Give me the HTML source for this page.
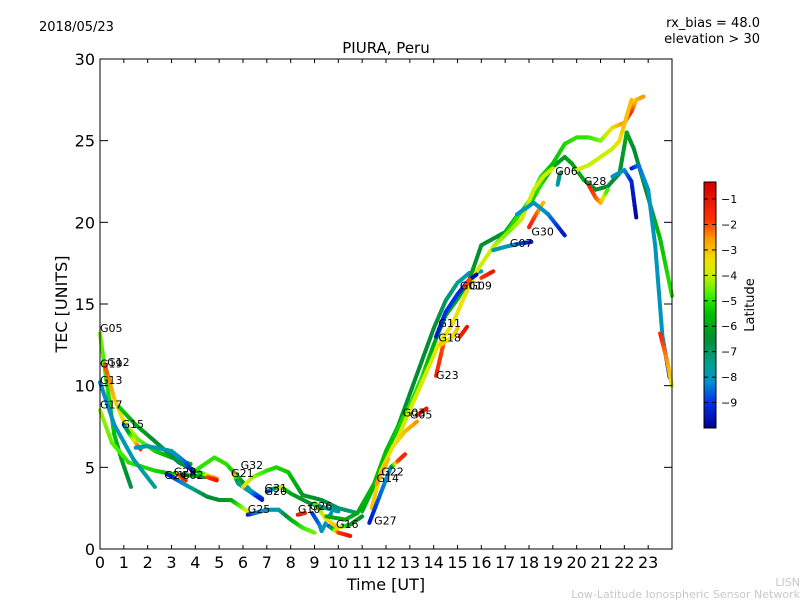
<!DOCTYPE html>
<html><head><meta charset="utf-8"><style>
body{margin:0;background:#fff;}
svg text{font-family:"DejaVu Sans","Liberation Sans",sans-serif;}
</style></head><body>
<svg id="chart" width="800" height="600" xmlns="http://www.w3.org/2000/svg">
<rect width="800" height="600" fill="#fff"/>
<text x="39" y="31" font-size="13">2018/05/23</text>
<text x="760" y="27" font-size="13" text-anchor="end">rx_bias = 48.0</text>
<text x="760" y="43" font-size="13" text-anchor="end">elevation &gt; 30</text>
<text x="386" y="53" font-size="15" text-anchor="middle">PIURA, Peru</text>
<text x="386" y="590" font-size="16" text-anchor="middle">Time [UT]</text>
<text transform="translate(67,304) rotate(-90)" font-size="16" text-anchor="middle">TEC [UNITS]</text>
<text x="800" y="586" font-size="11" fill="#c8c8c8" text-anchor="end">LISN</text>
<text x="800" y="598" font-size="11" fill="#c8c8c8" text-anchor="end">Low-Latitude Ionospheric Sensor Network</text>
<g id="tracks"></g>
<g id="labels"></g>
<rect x="100" y="59" width="572" height="490" fill="none" stroke="#000" stroke-width="1"/>
<g id="axes"></g>
<defs><linearGradient id="cbgrad" x1="0" y1="1" x2="0" y2="0"></linearGradient></defs>
<rect x="704" y="182" width="12" height="246" fill="url(#cbgrad)" stroke="#000" stroke-width="1"/>
<g id="cbticks"></g>
<text transform="translate(754,305) rotate(-90)" font-size="13" text-anchor="middle">Latitude</text>
</svg>
<script>
const xTicks=[0,1,2,3,4,5,6,7,8,9,10,11,12,13,14,15,16,17,18,19,20,21,22,23];
const yTicks=[0,5,10,15,20,25,30];
const cbTicks=[-1,-2,-3,-4,-5,-6,-7,-8,-9];
const latStops=[-10,-9,-8.2,-7.5,-6.5,-5.5,-4.8,-4,-3.4,-2.6,-1.8,-0.33];
const stopColors=["#00008f","#0030e8","#0090d0","#00a090","#008f30","#00c000","#40f000","#c8f000","#f0e000","#ffa000","#ff3000","#d00000"];
const trackNames=["G05","lime","G13","G12","G17","G15","G15b","G29","G25","G02","G02b","bump","G21","G32","G31","G10","G10b","G26","G16","rise1","rise2","top","yellow1","yellow2","G28","G30a","G30b","G07","G06","late1","late2","lateRed","G23","G23b","G23c","G11","G01","G09","G03","G14","G27","G22"];
const trackData=[
[[0,13.2,-4.5],[0.3,10,-5],[0.6,7,-5.5],[0.9,5.5,-6],[1.3,3.8,-6.8]],
[[0,8.5,-4.2],[0.5,6.5,-4.6],[1.2,5.3,-5],[2.3,4.8,-5.2],[3,4.6,-5.5],[3.8,4.5,-5.8],[4.5,4.4,-6.5]],
[[0,10.2,-8.2],[0.6,7.6,-8],[1.4,5.5,-7.8],[2.3,3.8,-7.5]],
[[0.2,11.3,-1.8],[0.6,9.2,-3],[1.0,7.8,-3.6],[1.6,6.7,-4.5],[2.3,6.0,-5.2],[3,5.6,-5.8],[3.8,5.2,-6]],
[[0.8,8.7,-5.2],[1.5,7.6,-6],[2.3,6.6,-6.5],[3.3,5.3,-6.8],[4,4.8,-6.5],[4.9,4.3,-2]],
[[1,7.6,-9.2],[1.3,6.9,-5],[1.7,6.1,-1.5]],
[[1.5,6.2,-8],[2.0,6.3,-7.8],[3,6,-7.8],[3.6,5.3,-8.5],[3.9,4.7,-9.5]],
[[2.8,4.6,-9.5],[3.5,4,-8.2],[4.5,3.2,-6.5],[5,3,-6.5],[5.5,3,-6],[6,2.5,-4.5],[6.2,2.3,-3.5]],
[[6.2,2.1,-9.5],[6.5,2.2,-8.5],[7,2.4,-8],[7.5,2.4,-7.8],[8,1.8,-6],[8.5,1.3,-5],[9,1,-4.5]],
[[3.2,4.6,-3],[3.6,4.2,-1.5]],
[[4.5,4.4,-2],[4.9,4.2,-1]],
[[4.1,4.9,-5],[4.5,5.3,-5],[4.8,5.6,-5],[5.3,5.2,-5],[5.8,4.4,-5.5],[6.3,3.6,-7.5],[6.8,3.1,-9]],
[[5.6,4.6,-1.5],[5.8,4.0,-7.5],[6.3,3.5,-8],[6.8,3.0,-9.5]],
[[6,3.8,-3],[6.4,4.4,-4.2],[7,4.8,-5],[7.4,5,-5.2],[7.9,4.7,-5.3],[8.2,4,-5.8],[8.5,3.3,-6.3],[9.3,3,-6.5],[10,2.5,-7],[10.8,2.2,-7.2]],
[[7,3.5,-9],[7.3,3.7,-8],[7.6,3.8,-3.5],[8,3.4,-6],[8.8,2.8,-6.5],[9.5,2.5,-7.5],[10,2.3,-8]],
[[8.3,2.1,-1],[8.6,2.2,-1.5]],
[[8.9,2.2,-9],[9.2,1.5,-8.5],[9.3,1.1,-8],[9.7,2.2,-8]],
[[9,2.8,-5],[9.5,1.8,-3.5],[10,1.3,-3],[10.5,1.5,-6],[11,2,-6.5]],
[[9.6,1.4,-9.5],[10,1,-2],[10.5,0.8,-1]],
[[9.5,2,-6],[10.3,1.8,-6],[10.8,2.2,-6],[11.5,4,-5.5],[12,6,-5.5],[12.5,7.5,-6],[13,9.5,-6.5],[13.5,11.5,-6.5],[14,13.5,-6.5],[14.5,15.2,-7],[15,16.3,-7.5],[15.5,16.9,-8],[16,17,-8]],
[[11,2.3,-6],[11.7,4.5,-5.5],[12.2,6.5,-5.5],[13,8.8,-5],[13.5,10.5,-5],[14,12.5,-6],[14.5,14.3,-6],[15,15.3,-6],[15.5,16.5,-6.2],[16,18.6,-6.5],[16.5,19,-6.5],[17,19.4,-6.3],[17.5,20.4,-6],[18,21,-5.5],[18.5,22.3,-5],[19,23.4,-6],[19.5,24,-6.3],[19.8,23.6,-6],[20.3,22.6,-6],[20.8,22,-6.5],[21.3,22.2,-6.5],[21.8,23,-6.5],[22.1,25.5,-6],[22.4,24.5,-6.5],[23,21.5,-6.5],[23.5,19,-5.5],[24,15.5,-5]],
[[16.5,18.5,-6],[17,19.3,-5.5],[17.5,20.3,-5],[18,21.3,-5],[18.5,22.8,-5],[19,23.6,-5.5],[19.5,24.8,-5.2],[20,25.2,-5],[20.5,25.2,-5],[21,25,-4.5],[21.5,25.8,-3.5],[22,26.1,-2.5],[22.3,26.8,-1.5],[22.5,27.5,-3],[22.8,27.7,-2.5]],
[[12.5,6.8,-3.8],[13,8.5,-3.8],[13.6,10.5,-3.8],[14.2,12.5,-3.6],[14.8,13.8,-3.5],[15.3,15.5,-3.5],[15.8,17,-3.8],[16.5,18.5,-4],[17.2,19.5,-4.5],[17.7,20.2,-4],[18.2,22,-4],[18.6,22.8,-3.8],[19,23.3,-4]],
[[20,23.2,-4],[20.5,23.5,-4],[21,24,-4],[21.5,24.5,-4],[21.8,25,-3.5],[22,26,-3],[22.3,27.5,-3]],
[[20.5,22.3,-1.5],[20.8,21.5,-2],[21,21.2,-2.5],[21.3,22,-5]],
[[18,19.7,-1.5],[18.3,20.5,-2],[18.6,21.2,-3]],
[[17.5,20.5,-8],[18.2,21.2,-8],[18.8,20.5,-8.2],[19.5,19.2,-9.5]],
[[16.5,18.3,-7.5],[17,18.5,-7.8],[17.6,18.7,-8.5],[18.1,18.8,-9.5]],
[[19.2,22.3,-8],[19.3,23,-7]],
[[21.5,22.8,-8],[22,23.2,-8],[22.3,22.5,-9.2],[22.5,20.3,-9.8]],
[[22.3,23.3,-9.5],[22.6,23.5,-8.5],[23,22,-8],[23.3,18.5,-8],[23.6,13,-8],[23.9,10.5,-9]],
[[23.5,13.2,-1.5],[23.8,11.5,-2.5],[24,10,-3.5]],
[[14.1,10.6,-1.5],[14.4,12.5,-2]],
[[14.3,12.5,-3],[14.8,13,-3.5],[15,13.5,-3]],
[[15.1,13,-1.5],[15.4,13.6,-1]],
[[14.1,13,-9.5],[14.5,14.5,-9],[15,15.6,-9],[15.5,16.5,-9.5],[15.8,16.8,-9.7]],
[[16,16.6,-2],[16.5,17,-1]],
[[15.3,16,-1.5],[15.5,16.5,-2]],
[[13.3,8.2,-2],[13.7,8.6,-1]],
[[11.4,2.5,-3],[11.8,4.8,-3.5],[12.3,6.3,-3.5],[12.8,7.2,-3],[13.3,7.8,-2.5]],
[[11.3,1.6,-9.5],[11.8,3.5,-8.5],[12.2,5,-8],[12.5,5.4,-2],[12.8,5.8,-1.5]],
[[11.6,4,-2.5],[12.1,5.5,-3]]
];
const labelNames=["G05","G12","G19","G13","G17","G15","G24","G29","G02","G32","G21","G31","G20","G25","G10","G26","G16","G27","G22","G14","G03","G05","G23","G18","G11","G01","G09","G07","G30","G06","G28"];
const labelT=[0,0.3,0,0,0,0.9,2.7,3.1,3.4,5.9,5.5,6.9,6.9,6.2,8.3,8.8,9.9,11.5,11.8,11.6,12.7,13.0,14.1,14.2,14.2,15.1,15.5,17.2,18.1,19.1,20.3];
const labelTEC=[13.3,11.2,11.1,10.1,8.6,7.4,4.3,4.5,4.3,4.9,4.4,3.5,3.3,2.2,2.2,2.4,1.3,1.5,4.5,4.1,8.1,8.0,10.4,12.7,13.6,15.9,15.9,18.5,19.2,22.9,22.3];

const ns="http://www.w3.org/2000/svg";
const X0=100,X1=672,Y0=549,Y1=59;
function xs(t){return X0+(X1-X0)*t/24;}
function ys(v){return Y0-(Y0-Y1)*v/30;}
function hex(c){return [parseInt(c.substr(1,2),16),parseInt(c.substr(3,2),16),parseInt(c.substr(5,2),16)];}
function color(l){
  if(l<=latStops[0])return stopColors[0];
  for(let i=1;i<latStops.length;i++){
    if(l<=latStops[i]){const f=(l-latStops[i-1])/(latStops[i]-latStops[i-1]);
      const a=hex(stopColors[i-1]),b=hex(stopColors[i]);
      return "rgb("+a.map((v,k)=>Math.round(v+(b[k]-v)*f)).join(",")+")";}
  }
  return stopColors[stopColors.length-1];
}
const tg=document.getElementById("tracks");
trackData.forEach((tr,ti)=>{
  const g=document.createElementNS(ns,"g");
  
  
  for(let i=0;i<tr.length-1;i++){
    const a=tr[i],b=tr[i+1];const n=6;
    for(let k=0;k<n;k++){
      const f0=k/n,f1=(k+1)/n;
      const ln=document.createElementNS(ns,"line");
      ln.setAttribute("x1",xs(a[0]+(b[0]-a[0])*f0));ln.setAttribute("y1",ys(a[1]+(b[1]-a[1])*f0));
      ln.setAttribute("x2",xs(a[0]+(b[0]-a[0])*f1));ln.setAttribute("y2",ys(a[1]+(b[1]-a[1])*f1));
      ln.setAttribute("stroke",color(a[2]+(b[2]-a[2])*(f0+f1)/2));
      ln.setAttribute("stroke-width","4");ln.setAttribute("stroke-linecap","round");
      
      
      g.appendChild(ln);
    }
  }
  tg.appendChild(g);
});
const lg=document.getElementById("labels");
labelNames.forEach((n,i)=>{
  const t=document.createElementNS(ns,"text");
  t.setAttribute("x",xs(labelT[i]));t.setAttribute("y",ys(labelTEC[i]));
  t.setAttribute("font-size","11");t.textContent=n;
  
  
  lg.appendChild(t);
});
const ax=document.getElementById("axes");
function mk(tag,attrs){const e=document.createElementNS(ns,tag);for(const k in attrs)e.setAttribute(k,attrs[k]);return e;}
xTicks.forEach(v=>{
  const x=xs(v);
  const a=mk("line",{x1:x,y1:Y0,x2:x,y2:Y0-4,stroke:"#000"});
  
  
  ax.appendChild(a);
  const b=mk("line",{x1:x,y1:Y1,x2:x,y2:Y1+4,stroke:"#000"});
  
  
  ax.appendChild(b);
  const t=mk("text",{x:x,y:568,"font-size":16,"text-anchor":"middle"});t.textContent=v;
  
  
  ax.appendChild(t);
});
yTicks.forEach(v=>{
  const y=ys(v);
  const a=mk("line",{x1:X0,y1:y,x2:X0+8,y2:y,stroke:"#000"});
  
  
  ax.appendChild(a);
  const b=mk("line",{x1:X1,y1:y,x2:X1-8,y2:y,stroke:"#000"});
  
  
  ax.appendChild(b);
  const t=mk("text",{x:95,y:y+6,"font-size":16,"text-anchor":"end"});t.textContent=v;
  
  
  ax.appendChild(t);
});
const grad=document.getElementById("cbgrad");
const CB0=-10,CB1=-0.33,CBT=182,CBB=428;
latStops.forEach((l,i)=>{
  const s=mk("stop",{offset:((l-CB0)/(CB1-CB0)).toFixed(3),"stop-color":stopColors[i]});
  
  
  grad.appendChild(s);
});
const cg=document.getElementById("cbticks");
cbTicks.forEach(v=>{
  const y=CBB-(CBB-CBT)*(v-CB0)/(CB1-CB0);
  const l=mk("line",{x1:704,y1:y,x2:708,y2:y,stroke:"#000"});
  
  
  cg.appendChild(l);
  const l2=mk("line",{x1:716,y1:y,x2:712,y2:y,stroke:"#000"});
  
  
  cg.appendChild(l2);
  const t=mk("text",{x:721,y:y+4,"font-size":11});t.textContent="\u2212"+Math.abs(v);
  
  
  cg.appendChild(t);
});
</script>
</body></html>
